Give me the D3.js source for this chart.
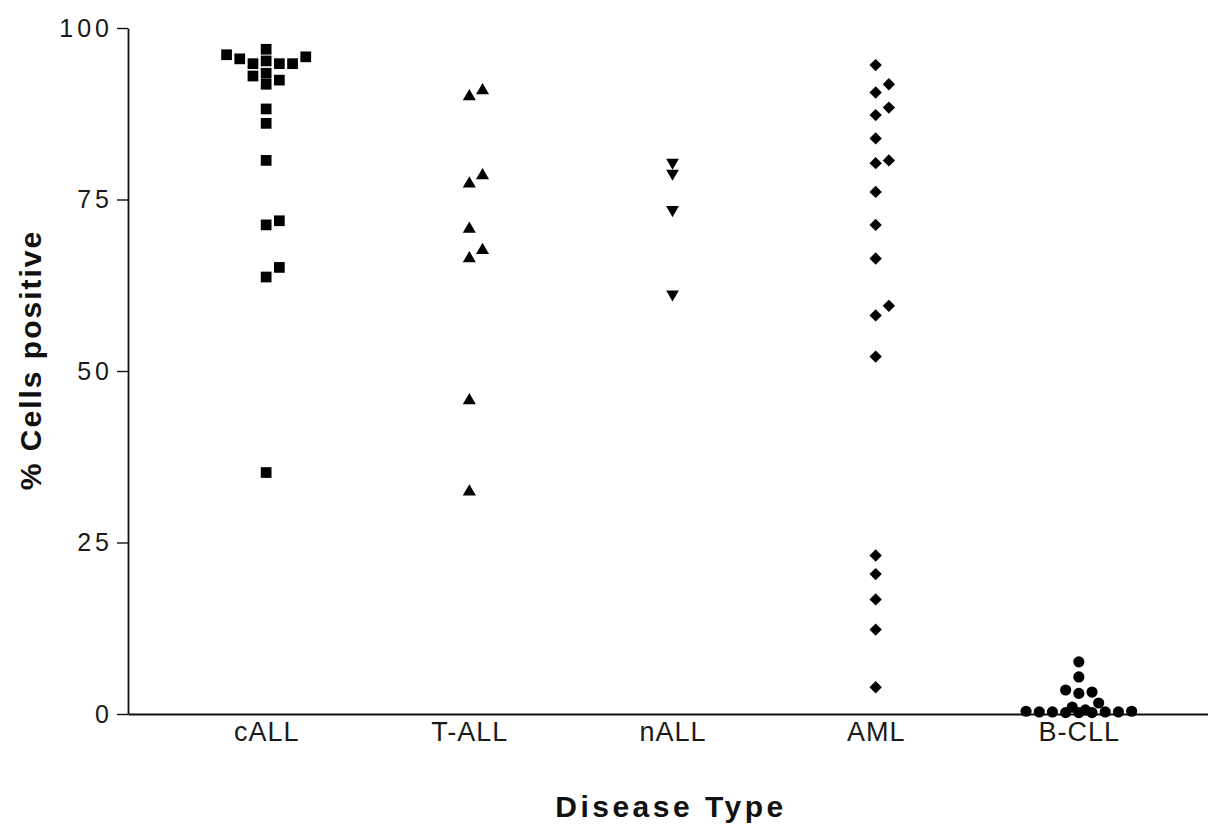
<!DOCTYPE html>
<html>
<head>
<meta charset="utf-8">
<script src="https://cdn.jsdelivr.net/npm/d3@7"></script>
<style>
  body { margin: 0; background: #fff; }
  svg { display: block; }
  .tick text { font-family: "Liberation Sans", Arial, sans-serif; fill: #1a1a1a; }
  .title { font-family: "Liberation Sans", Arial, sans-serif; font-weight: bold; fill: #111; }
</style>
</head>
<body>
<script>
// Categories and the values (% cells positive)
var categories = ["cALL", "T-ALL", "nALL", "AML", "B-CLL"]
var yTicks = [0, 25, 50, 75, 100]

var cALL = [96.9, 96.1, 95.8, 95.5, 95.2, 94.8, 94.8, 94.8, 93.4, 93.0, 92.4, 91.8,
            88.2, 86.1, 80.7, 71.9, 71.3, 65.1, 63.7, 35.2]
var tALL = [90.9, 90.0, 78.5, 77.3, 70.7, 67.6, 66.4, 45.7, 32.4]
var nALL = [80.4, 78.8, 73.5, 61.2]
var AML  = [94.6, 91.8, 90.6, 88.4, 87.3, 83.9, 80.7, 80.3, 76.1, 71.3, 66.4, 59.5,
            58.1, 52.1, 23.1, 20.4, 16.7, 12.3, 3.9]
var bCLL = [7.6, 5.4, 3.5, 3.2, 3.0, 1.6, 1.0, 0.6,
            0.3, 0.2, 0.4, 0.3, 0.2, 0.3, 0.4, 0.3, 0.2]

var groups = [cALL, tALL, nALL, AML, bCLL]

// Set the dimensions of the canvas
var margin = {top: 28, right: 0, bottom: 118, left: 128},
    width = 1208 - margin.left - margin.right,
    height = 832 - margin.top - margin.bottom

var svg = d3.select("body")
    .append("svg")
        .attr("width", 1208)
        .attr("height", 832)
    .append("g")
        .attr("transform", "translate(" + margin.left + "," + margin.top + ")")

// Scales
var x = d3.scalePoint().domain(categories).range([0, 1089]).padding(0.68)
var y = d3.scaleLinear().domain([0, 100]).range([height, 0])

// Marker shapes, one per group
var shapes = [
  {type: d3.symbolSquare, size: 115, rotate: 0},
  {type: d3.symbolTriangle, size: 74, rotate: 0},
  {type: d3.symbolTriangle, size: 70, rotate: 180},
  {type: d3.symbolSquare, size: 76, rotate: 45},
  {type: d3.symbolCircle, size: 98, rotate: 0}
]

// Column scatter layout: points that would overlap are pushed sideways
var slotW = 13.2, minDy = 10
function spread(values) {
  var pts = values.map(v => ({v: v, py: y(v)})).sort((a, b) => a.v - b.v)
  var placed = []
  var hit = (p, s) => placed.some(q => Math.abs(q.s - s) < 1 && Math.abs(q.py - p.py) < minDy)
  pts.forEach(p => {
    var slot = null
    var order = [0, 1, -1, 2, -2, 3, -3, 4, -4]
    for (var k of order) { if (!hit(p, k)) { slot = k; break } }
    if (slot === null) {
      var best = -Infinity
      ;[0.5, -0.5, 1.5, -1.5, 2.5, -2.5, 3.5, -3.5].forEach(s => {
        var m = d3.min(placed, q => Math.hypot((q.s - s) * slotW, q.py - p.py))
        var score = m - Math.abs(s) * 0.8
        if (score > best) { best = score; slot = s }
      })
    }
    p.s = slot
    placed.push(p)
  })
  return placed
}

// Y axis
var yAxis = d3.axisLeft(y).tickValues(yTicks).tickSize(11).tickPadding(4).tickSizeOuter(0)
var gy = svg.append("g").attr("class", "y axis").call(yAxis)
gy.select(".domain").attr("stroke", "#111").attr("stroke-width", 1.8)
gy.selectAll(".tick line").attr("stroke", "#111").attr("stroke-width", 1.4)
gy.selectAll(".tick text")
    .style("font-size", "25px")
    .style("letter-spacing", "4px")

// X axis (line with category labels, no tick marks)
var xAxis = d3.axisBottom(x).tickSize(0).tickSizeOuter(0)
var gx = svg.append("g")
    .attr("class", "x axis")
    .attr("transform", "translate(0," + height + ")")
    .call(xAxis)
gx.select(".domain").attr("stroke", "#111").attr("stroke-width", 1.8)
gx.selectAll(".tick text")
    .attr("y", 27)
    .attr("dy", 0)
    .style("font-size", "27px")
    .style("letter-spacing", "1px")

// Points
groups.forEach((vals, i) => {
  var sh = shapes[i]
  var sym = d3.symbol().type(sh.type).size(sh.size)
  svg.append("g")
      .attr("class", "group")
    .selectAll("path")
    .data(spread(vals))
    .enter().append("path")
      .attr("d", sym)
      .attr("fill", "#000")
      .attr("transform", d => "translate(" + (x(categories[i]) + d.s * slotW) + "," + d.py + ") rotate(" + sh.rotate + ")")
})

// Axis titles
svg.append("text")
    .attr("class", "title")
    .attr("x", 671 - margin.left)
    .attr("y", 817 - margin.top)
    .attr("text-anchor", "middle")
    .style("font-size", "30px")
    .style("letter-spacing", "3.5px")
    .text("Disease Type")

svg.append("text")
    .attr("class", "title")
    .attr("transform", "translate(" + (41 - margin.left) + "," + (360 - margin.top) + ") rotate(-90)")
    .attr("text-anchor", "middle")
    .style("font-size", "30px")
    .style("letter-spacing", "2px")
    .text("% Cells positive")
</script>
</body>
</html>
